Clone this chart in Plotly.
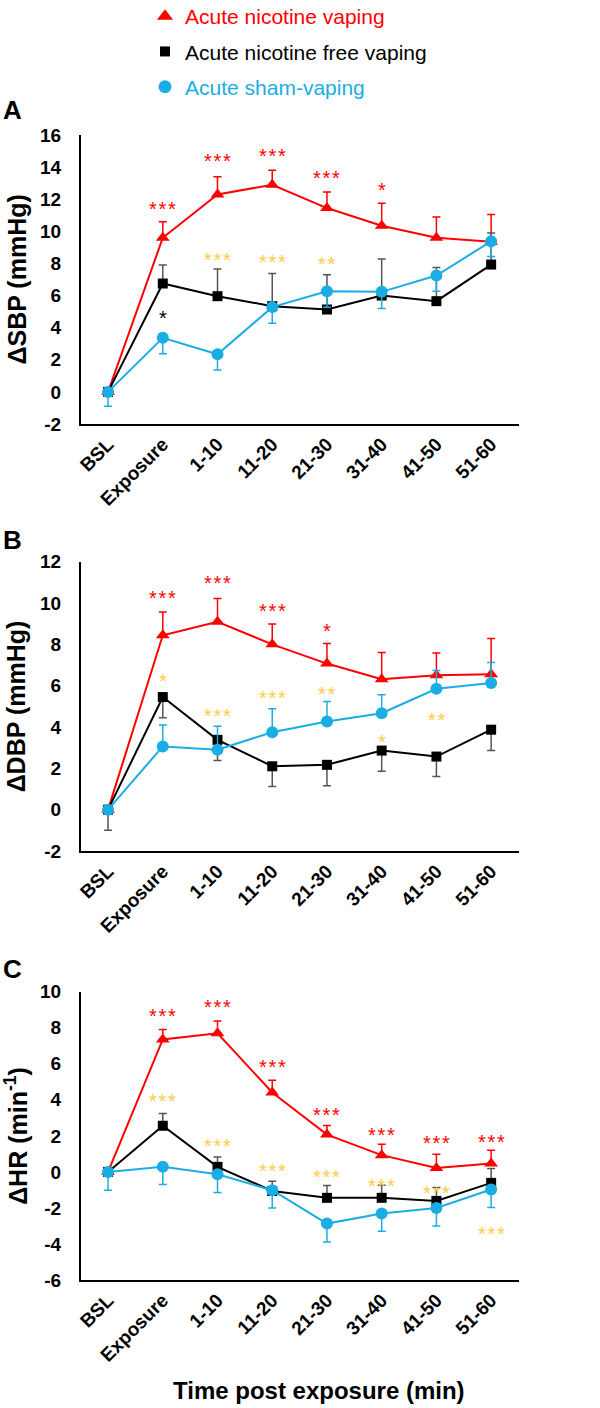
import plotly.graph_objects as go

# ---------------- data ----------------
categories = ["BSL", "Exposure", "1-10", "11-20", "21-30", "31-40", "41-50", "51-60"]

# Panel A: delta SBP (mmHg)
sbp_ticks = [-2, 0, 2, 4, 6, 8, 10, 12, 14, 16]
sbp_nic = [0, 9.6, 12.3, 12.9, 11.45, 10.35, 9.6, 9.35]
sbp_nic_err_up = [0, 1.0, 1.1, 0.9, 1.0, 1.4, 1.3, 1.7]
sbp_free = [0, 6.75, 5.96, 5.34, 5.13, 6.0, 5.65, 7.93]
sbp_free_err_up = [0, 1.15, 1.7, 2.03, 2.17, 2.28, 2.1, 1.97]
sbp_sham = [0, 3.37, 2.34, 5.28, 6.27, 6.23, 7.25, 9.38]
sbp_sham_err_down = [0.9, 1.0, 0.97, 1.0, 1.0, 1.03, 0.98, 0.95]

# Panel B: delta DBP (mmHg)
dbp_ticks = [-2, 0, 2, 4, 6, 8, 10, 12]
dbp_nic = [0, 8.44, 9.09, 8.0, 7.07, 6.31, 6.5, 6.55]
dbp_nic_err_up = [0, 1.13, 1.13, 0.98, 0.97, 1.29, 1.08, 1.73]
dbp_free = [0, 5.45, 3.38, 2.1, 2.17, 2.86, 2.57, 3.87]
dbp_free_err_down = [1.0, 1.0, 1.0, 0.98, 1.01, 1.0, 0.97, 1.01]
dbp_sham = [0, 3.06, 2.9, 3.75, 4.27, 4.67, 5.85, 6.13]
dbp_sham_err_up = [0, 1.04, 1.14, 1.13, 0.97, 0.89, 0.89, 0.99]

# Panel C: delta HR (min-1)
hr_ticks = [-6, -4, -2, 0, 2, 4, 6, 8, 10]
hr_nic = [0, 7.35, 7.69, 4.41, 2.07, 0.93, 0.22, 0.46]
hr_nic_err_up = [0, 0.55, 0.68, 0.68, 0.5, 0.61, 0.76, 0.74]
hr_free = [0, 2.56, 0.28, -1.06, -1.44, -1.44, -1.61, -0.61]
hr_free_err_up = [0, 0.68, 0.55, 0.54, 0.68, 0.7, 0.74, 0.8]
hr_sham = [0, 0.28, -0.13, -1.02, -2.87, -2.31, -2.0, -0.98]
hr_sham_err_down = [1.02, 0.98, 1.02, 0.98, 1.02, 0.99, 1.0, 1.0]

# significance marks: (category, y, stars)
sbp_marks_nic = [("Exposure", 11.65, "***"), ("1-10", 14.6, "***"), ("11-20", 14.97, "***"),
                 ("21-30", 13.58, "***"), ("31-40", 12.8, "*")]
sbp_marks_gold = [("1-10", 8.49, "***"), ("11-20", 8.34, "***"), ("21-30", 8.24, "**")]
sbp_marks_black = [("Exposure", 4.87, "*")]

dbp_marks_nic = [("Exposure", 10.42, "***"), ("1-10", 11.14, "***"), ("11-20", 9.82, "***"),
                 ("21-30", 8.85, "*")]
dbp_marks_gold = [("Exposure", 6.42, "*"), ("1-10", 4.75, "***"), ("11-20", 5.58, "***"),
                  ("21-30", 5.8, "**"), ("31-40", 3.48, "*"), ("41-50", 4.53, "**")]

hr_marks_nic = [("Exposure", 8.89, "***"), ("1-10", 9.39, "***"), ("11-20", 6.06, "***"),
                ("21-30", 3.39, "***"), ("31-40", 2.28, "***"), ("41-50", 1.83, "***"),
                ("51-60", 1.9, "***")]
hr_marks_gold = [("Exposure", 4.13, "***"), ("1-10", 1.67, "***"), ("11-20", 0.28, "***"),
                 ("21-30", -0.06, "***"), ("31-40", -0.56, "***"), ("41-50", -0.93, "***"),
                 ("51-60", -3.24, "***")]

series_names = ["Acute nicotine vaping", "Acute nicotine free vaping", "Acute sham-vaping"]

# ---------------- styles ----------------
RED = "#FF0000"
BLACK = "#000000"
BLUE = "#1AADE4"
GOLD = "#FFCB4A"
ERR_BLACK = "#555555"
FONT = "Liberation Sans, Arial, sans-serif"
W, H = 600, 1408

fig = go.Figure()

def px_x(p):
    return p / W

def px_y(p):
    return 1 - p / H

panels = [
    dict(ax="", top=135, bottom=424, yr=[-2, 16], ticks=sbp_ticks,
         nic=sbp_nic, nic_e=(sbp_nic_err_up, "up"),
         free=sbp_free, free_e=(sbp_free_err_up, "up"),
         sham=sbp_sham, sham_e=(sbp_sham_err_down, "down"),
         title="ΔSBP (mmHg)", letter="A", letter_y=110,
         marks=[(sbp_marks_nic, RED), (sbp_marks_gold, GOLD), (sbp_marks_black, BLACK)]),
    dict(ax="2", top=561.7, bottom=851, yr=[-2, 12], ticks=dbp_ticks,
         nic=dbp_nic, nic_e=(dbp_nic_err_up, "up"),
         free=dbp_free, free_e=(dbp_free_err_down, "down"),
         sham=dbp_sham, sham_e=(dbp_sham_err_up, "up"),
         title="ΔDBP (mmHg)", letter="B", letter_y=540,
         marks=[(dbp_marks_nic, RED), (dbp_marks_gold, GOLD)]),
    dict(ax="3", top=991.7, bottom=1280, yr=[-6, 10], ticks=hr_ticks,
         nic=hr_nic, nic_e=(hr_nic_err_up, "up"),
         free=hr_free, free_e=(hr_free_err_up, "up"),
         sham=hr_sham, sham_e=(hr_sham_err_down, "down"),
         title="ΔHR (min<sup>-1</sup>)", letter="C", letter_y=969,
         marks=[(hr_marks_nic, RED), (hr_marks_gold, GOLD)]),
]

X_LEFT, X_RIGHT = 80.7, 518.5


def err_dict(err, direction, color):
    zeros = [0] * len(err)
    if direction == "up":
        arr, arrm = err, zeros
    else:
        arr, arrm = zeros, err
    return dict(type="data", symmetric=False, array=arr, arrayminus=arrm,
                color=color, thickness=1.5, width=4)


annotations = []
layout_axes = {}
for p in panels:
    xa = "x" + p["ax"]
    ya = "y" + p["ax"]
    specs = [
        (p["nic"], p["nic_e"], RED, RED, "triangle-up", 12, series_names[0]),
        (p["free"], p["free_e"], BLACK, ERR_BLACK, "square", 10, series_names[1]),
        (p["sham"], p["sham_e"], BLUE, BLUE, "circle", 12, series_names[2]),
    ]
    for vals, (err, d), col, ecol, sym, size, name in specs:
        fig.add_trace(go.Scatter(
            x=categories, y=vals, xaxis=xa, yaxis=ya, mode="lines+markers",
            name=name, showlegend=False,
            line=dict(color=col, width=2),
            marker=dict(symbol=sym, size=size, color=col),
            error_y=err_dict(err, d, ecol),
            cliponaxis=False,
        ))
    layout_axes["xaxis" + p["ax"]] = dict(
        domain=[px_x(X_LEFT), px_x(X_RIGHT)], anchor=ya, type="category",
        range=[-0.5, 7.5], showline=True, linecolor="black", linewidth=1.5,
        showgrid=False, zeroline=False, ticks="", tickangle=-45, automargin=False,
        tickfont=dict(family=FONT, size=19, color="black", weight="bold"),
    )
    layout_axes["yaxis" + p["ax"]] = dict(
        domain=[px_y(p["bottom"]), px_y(p["top"])], anchor=xa,
        range=p["yr"], tickmode="array", tickvals=p["ticks"],
        ticktext=[str(t) for t in p["ticks"]],
        showline=True, linecolor="black",
        linewidth=1.5, showgrid=False, zeroline=False, ticks="", automargin=False,
        ticklabelstandoff=14,
        tickfont=dict(family=FONT, size=19, color="black", weight="bold"),
    )
    # y title
    annotations.append(dict(
        text=p["title"], xref="paper", yref="paper", x=px_x(16),
        y=px_y((p["top"] + p["bottom"]) / 2), textangle=-90, showarrow=False,
        xanchor="center", yanchor="middle",
        font=dict(family=FONT, size=25, color="black", weight="bold")))
    # panel letter
    annotations.append(dict(
        text=p["letter"], xref="paper", yref="paper", x=px_x(1), y=px_y(p["letter_y"]),
        showarrow=False, xanchor="left", yanchor="middle",
        font=dict(family=FONT, size=26, color="black", weight="bold")))
    # significance marks
    for marks, col in p["marks"]:
        for cat, yv, s in marks:
            annotations.append(dict(
                text="\u200a".join(s), xref=xa, yref=ya, x=cat, y=yv, showarrow=False,
                xanchor="center", yanchor="middle", yshift=-4,
                font=dict(family=FONT, size=20, color=col)))

# x title
annotations.append(dict(
    text="Time post exposure (min)", xref="paper", yref="paper", x=px_x(319), y=px_y(1390),
    showarrow=False, xanchor="center", yanchor="middle",
    font=dict(family=FONT, size=24, color="black", weight="bold")))

# legend entries
legend_colors = [RED, BLACK, BLUE]
legend_symbols = ["triangle-up", "square", "circle"]
legend_sizes = [14, 10, 13]
for i, name in enumerate(series_names):
    fig.add_trace(go.Scatter(
        x=[None], y=[None], mode="markers", xaxis="x", yaxis="y",
        name=f'<span style="color:{legend_colors[i]}">{name}</span>',
        legendgroup=f"g{i}", showlegend=True,
        marker=dict(symbol=legend_symbols[i], size=legend_sizes[i], color=legend_colors[i]),
    ))

fig.update_layout(
    width=W, height=H, margin=dict(l=0, r=0, t=0, b=0, autoexpand=False),
    paper_bgcolor="white", plot_bgcolor="white",
    showlegend=True,
    legend=dict(x=px_x(145), y=1.0 + 4 / H, xanchor="left", yanchor="top",
                font=dict(family=FONT, size=21), tracegroupgap=5,
                bgcolor="rgba(0,0,0,0)", itemsizing="trace"),
    annotations=annotations,
    **layout_axes,
)

fig.write_html("out.html", config={"displayModeBar": False},
               post_script="document.body.style.margin='0';document.body.style.overflow='hidden';")
